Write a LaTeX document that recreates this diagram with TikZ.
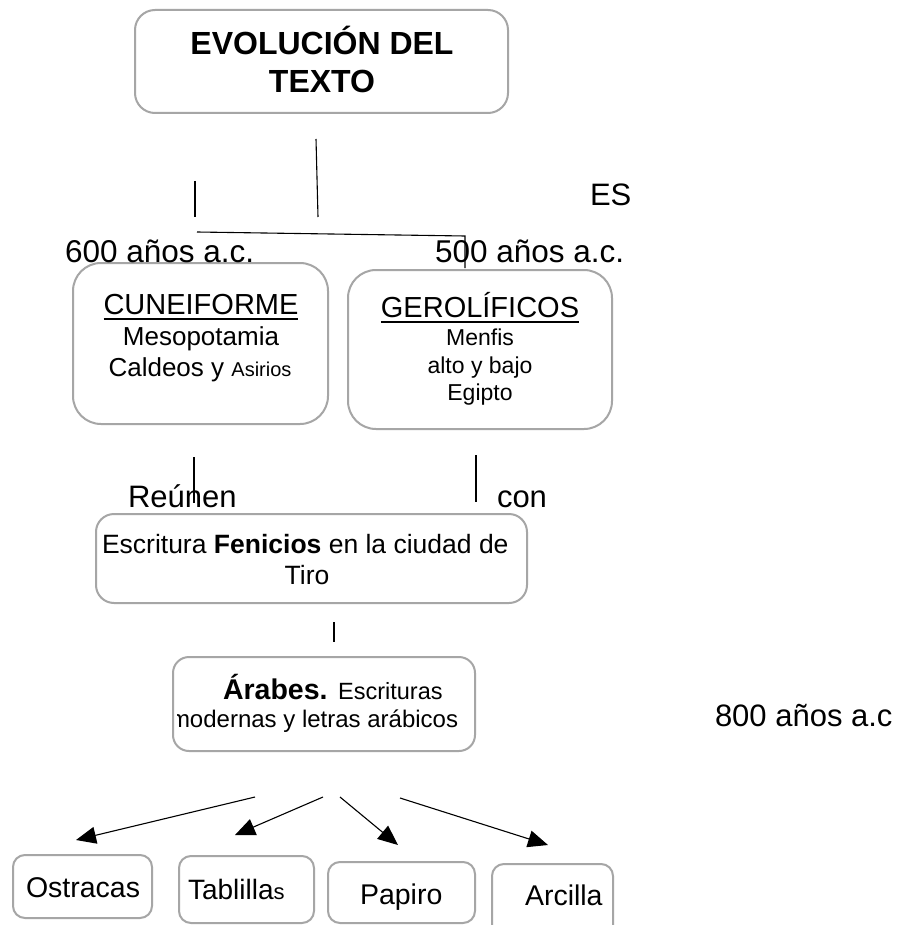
\documentclass[tikz,border=0pt]{standalone}
\usepackage{fontspec}
\setmainfont{Liberation Sans}
\usetikzlibrary{arrows.meta}
\definecolor{boxgray}{RGB}{166,166,166}
\newcommand\fs[1]{\fontsize{#1}{#1}\selectfont}
\newcommand\myul[1]{\setbox0\hbox{#1}\rlap{\rule[-6pt]{\wd0}{2pt}}\box0}
\tikzset{
  box/.style={draw=boxgray, line width=2pt, inner sep=0pt, outer sep=0pt, fill=none},
  txt/.style={inner sep=0pt, outer sep=0pt, anchor=base},
  txtw/.style={inner sep=0pt, outer sep=0pt, anchor=base west},
  conn/.style={draw=black, line width=1.1pt},
  arr/.style={draw=black, line width=1.1pt, -{Triangle[length=20pt,width=17pt]}}
}
\begin{document}
\begin{tikzpicture}[x=1pt,y=-1pt]
\clip (0,0) rectangle (901,925);
\fill[white] (0,0) rectangle (901,925);
% boxes
\node[box, rounded corners=20pt, minimum width=373pt, minimum height=103pt] (title) at (321.5,61.5) {};
\node[box, rounded corners=28pt, minimum width=255pt, minimum height=161pt] (cune) at (200.5,343.5) {};
\node[box, rounded corners=28pt, minimum width=264pt, minimum height=159pt] (gero) at (480,349.5) {};
\node[box, rounded corners=18pt, minimum width=431pt, minimum height=89pt] (fen) at (311.5,558.5) {};
\node[box, rounded corners=16pt, minimum width=302pt, minimum height=94pt] (arab) at (324,704) {};
\node[box, rounded corners=12pt, minimum width=139pt, minimum height=63pt] (ostr) at (82.5,886.5) {};
\node[box, rounded corners=12pt, minimum width=135pt, minimum height=67pt] (tabl) at (246.5,889.5) {};
\node[box, rounded corners=12pt, minimum width=147pt, minimum height=61pt] (pap) at (401.5,892.5) {};
\node[box, rounded corners=12pt, minimum width=121pt, minimum height=75pt] (arc) at (552.5,901.5) {};
% texts
\node[txt] (t1) at (322,55) {\fs{32}\bfseries EVOLUCIÓN DEL};
\node[txt] (t2) at (322,93) {\fs{32}\bfseries TEXTO};
\node[txtw] (es) at (590,206) {\fs{31}ES};
\node[txtw] (l600) at (65,262) {\fs{31.5}600 años a.c.};
\node[txtw] (l500) at (435,262) {\fs{31.5}500 años a.c.};
\node[txt] (cu1) at (201,314) {\fs{29}\myul{CUNEIFORME}};
\node[txt] (cu2) at (201,345) {\fs{26}Mesopotamia};
\node[txt] (cu3) at (200,376) {\fs{26}Caldeos y {\fs{20}Asirios}};
\node[txt] (ge1) at (480,317) {\fs{29}\myul{GEROLÍFICOS}};
\node[txt] (ge2) at (480,345) {\fs{23}Menfis};
\node[txt] (ge3) at (480,373) {\fs{23}alto y bajo};
\node[txt] (ge4) at (480,400) {\fs{23}Egipto};
\node[txtw] (reu) at (128,507) {\fs{31}Reúnen};
\node[txtw] (con) at (497,507) {\fs{31}con};
\node[txtw] (fe1) at (102,553) {\fs{26.5}Escritura \textbf{Fenicios} en la ciudad de};
\node[txt] (fe2) at (307,584) {\fs{26.5}Tiro};
\node[txtw] (ar1) at (223,699) {\fs{28.5}\textbf{Árabes.} {\fs{23.5}Escrituras}};
\begin{scope}
\clip (177,660) rectangle (474,749);
\node[txtw] (ar2) at (170,727) {\fs{24}modernas y letras arábicos};
\end{scope}
\node[txtw] (l800) at (715,726) {\fs{31}800 años a.c};
\node[txtw] (bo1) at (26,897) {\fs{28.5}Ostracas};
\node[txtw] (bo2) at (188,899) {\fs{28}Tablilla{\fs{22}s}};
\node[txtw] (bo3) at (360,904) {\fs{28.5}Papiro};
\node[txtw] (bo4) at (525,905) {\fs{28.5}Arcilla};
% connectors
\coordinate (c1a) at (316,139); \coordinate (c1b) at (318,217);
\coordinate (c2a) at (195,181); \coordinate (c2b) at (195,217);
\coordinate (c3a) at (197,232); \coordinate (c3b) at (465,236); \coordinate (c3c) at (465,268);
\coordinate (c4a) at (194,457); \coordinate (c4b) at (194,503);
\coordinate (c5a) at (476,455); \coordinate (c5b) at (476,502);
\coordinate (c6a) at (334,622); \coordinate (c6b) at (334,642);
\draw[conn] (c1a) -- (c1b);
\draw[conn] (c2a) -- (c2b);
\draw[conn] (c3a) -- (c3b) -- (c3c);
\draw[conn] (c4a) -- (c4b);
\draw[conn] (c5a) -- (c5b);
\draw[conn] (c6a) -- (c6b);
\coordinate (a1) at (255,797); \coordinate (a1t) at (76,840);
\coordinate (a2) at (323,797); \coordinate (a2t) at (235,835);
\coordinate (a3) at (340,797); \coordinate (a3t) at (398,845);
\coordinate (a4) at (400,798); \coordinate (a4t) at (548,845);
\draw[arr] (a1) -- (a1t);
\draw[arr] (a2) -- (a2t);
\draw[arr] (a3) -- (a3t);
\draw[arr] (a4) -- (a4t);
\end{tikzpicture}
\end{document}
